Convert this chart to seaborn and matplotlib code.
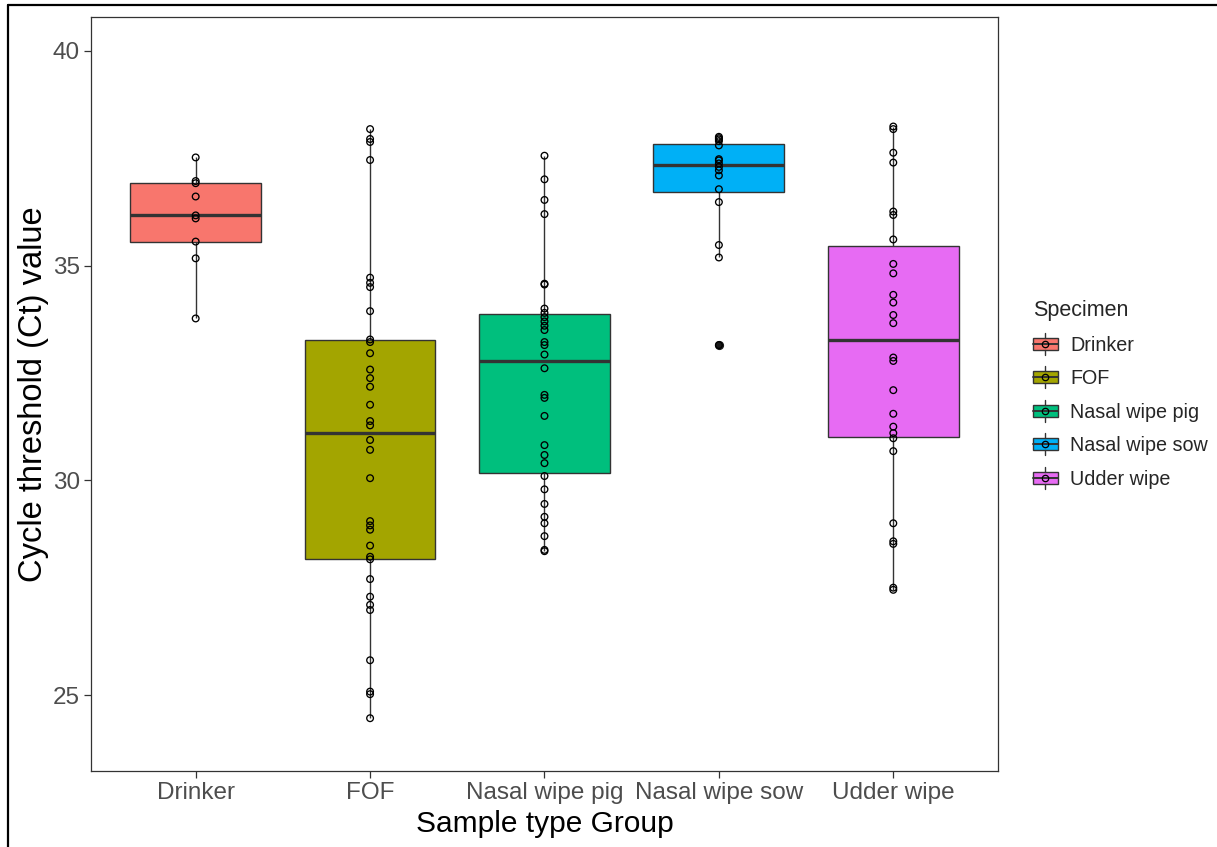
import numpy as np
import pandas as pd
import matplotlib
matplotlib.use("Agg")
import matplotlib.pyplot as plt
import seaborn as sns
from matplotlib.patches import Rectangle, Patch
from matplotlib.lines import Line2D
from matplotlib.legend_handler import HandlerBase

# ---------------- data ----------------
categories = ["Drinker", "FOF", "Nasal wipe pig", "Nasal wipe sow", "Udder wipe"]
colors = ["#F8766D", "#A3A500", "#00BF7D", "#00B0F6", "#E76BF3"]

drinker = [37.52, 36.97, 36.92, 36.61, 36.17, 36.10, 35.56, 35.17, 33.77]
fof = [38.18, 37.95, 37.88, 37.46, 34.72, 34.60, 34.50, 33.94, 33.28, 33.22,
       32.96, 32.58, 32.38, 32.18, 31.76, 31.38, 31.28, 30.94, 30.71, 30.05,
       29.05, 28.95, 28.85, 28.48, 28.22, 28.16, 27.70, 27.29, 27.10, 26.98,
       25.81, 25.08, 25.02, 24.46]
nasal_pig = [37.56, 37.01, 36.53, 36.20, 34.58, 34.56, 34.00, 33.90, 33.80, 33.70,
             33.60, 33.50, 33.22, 33.15, 32.93, 32.61, 31.99, 31.92, 31.50, 30.82,
             30.59, 30.40, 30.10, 29.79, 29.45, 29.15, 29.00, 28.70, 28.38, 28.35]
nasal_sow = [38.00, 37.97, 37.94, 37.90, 37.80, 37.48, 37.45, 37.38, 37.30, 37.22,
             37.10, 36.78, 36.48, 35.48, 35.19, 33.15]
udder = [38.24, 38.18, 37.63, 37.40, 36.26, 36.18, 35.61, 35.04, 34.82, 34.32,
         34.14, 33.85, 33.66, 32.86, 32.78, 32.10, 31.55, 31.25, 31.10, 30.98,
         30.68, 29.00, 28.58, 28.52, 27.50, 27.45]

yticks = [25, 30, 35, 40]
xlabel = "Sample type Group"
ylabel = "Cycle threshold (Ct) value"
legend_title = "Specimen"

series = [drinker, fof, nasal_pig, nasal_sow, udder]
df = pd.DataFrame({
    "group": np.repeat(categories, [len(s) for s in series]),
    "ct": np.concatenate(series),
})

# ---------------- style ----------------
sns.set_theme(style="white")
plt.rcParams["font.family"] = ["Liberation Sans", "DejaVu Sans"]

fig = plt.figure(figsize=(12.17, 8.47), dpi=100)
ax = fig.add_axes([0.0748, 0.0897, 0.8200 - 0.0748, 0.9799 - 0.0897])

palette = dict(zip(categories, colors))
edge = "#333333"
sns.boxplot(data=df, x="group", y="ct", hue="group", order=categories,
            hue_order=categories, palette=palette, width=0.75, dodge=False,
            saturation=1, linecolor=edge, linewidth=1.0, showcaps=False,
            legend=False,
            medianprops=dict(linewidth=2.4, color=edge),
            whiskerprops=dict(linewidth=1.0, color=edge),
            flierprops=dict(marker="o", markerfacecolor="#1a1a1a",
                            markeredgecolor="#1a1a1a", markersize=5.6),
            ax=ax)

n_before = len(ax.collections)
sns.stripplot(data=df, x="group", y="ct", order=categories, jitter=False,
              color="black", size=4.8, ax=ax, zorder=5)
for coll in ax.collections[n_before:]:
    coll.set_facecolor("none")
    coll.set_edgecolor("black")
    coll.set_linewidth(0.95)

ax.set_ylim(23.23, 40.79)
ax.set_xlim(-0.6, 4.6)
ax.set_yticks(yticks)
ax.set_yticklabels([str(v) for v in yticks])

for sp in ax.spines.values():
    sp.set_visible(True)
    sp.set_color("#333333")
    sp.set_linewidth(0.9)

ax.tick_params(axis="both", which="both", direction="out", length=5, width=0.9,
               color="#333333", labelcolor="#4D4D4D", labelsize=17.5,
               left=True, bottom=True, pad=3)
ax.set_xlabel(xlabel, fontsize=21.5, color="black", labelpad=4)
ax.set_ylabel(ylabel, fontsize=23.5, color="black", labelpad=3)
ax.grid(False)


# ---------------- legend ----------------
class BoxKeyHandler(HandlerBase):
    def create_artists(self, legend, orig_handle, xdescent, ydescent, width,
                       height, fontsize, trans):
        fc = orig_handle.get_facecolor()
        x0, y0 = -xdescent, -ydescent
        cx = x0 + width / 2
        cy = y0 + height / 2
        bh = height * 0.72
        rect = Rectangle((x0, cy - bh / 2), width, bh, facecolor=fc,
                         edgecolor=edge, linewidth=1.0, transform=trans)
        w1 = Line2D([cx, cx], [y0 - height * 0.15, cy - bh / 2], color=edge,
                    linewidth=1.0, transform=trans)
        w2 = Line2D([cx, cx], [cy + bh / 2, y0 + height * 1.15], color=edge,
                    linewidth=1.0, transform=trans)
        med = Line2D([x0, x0 + width], [cy, cy], color=edge, linewidth=1.4,
                     transform=trans)
        pt = Line2D([cx], [cy], marker="o", markersize=4.6,
                    markerfacecolor="none", markeredgecolor="black",
                    markeredgewidth=0.9, transform=trans)
        return [rect, w1, w2, med, pt]


handles = [Patch(facecolor=c, label=lab) for c, lab in zip(colors, categories)]
leg = fig.legend(handles=handles, labels=categories, title=legend_title,
                 loc="upper left", bbox_to_anchor=(0.842, 0.655),
                 frameon=False, fontsize=14.2, title_fontsize=15.5,
                 handlelength=1.3, handleheight=0.95, labelspacing=0.72,
                 handletextpad=0.6, borderaxespad=0,
                 handler_map={Patch: BoxKeyHandler()})
leg._legend_box.align = "left"

# ---------------- screenshot frame ----------------
fig.add_artist(Line2D([0.0066, 1.0], [1 - 5 / 847, 1 - 5 / 847],
                      transform=fig.transFigure, color="black", linewidth=1.6))
fig.add_artist(Line2D([0.0066, 0.0066], [0.0, 1 - 5 / 847],
                      transform=fig.transFigure, color="black", linewidth=1.6))

fig.savefig("out.png", dpi=100, facecolor="white")
